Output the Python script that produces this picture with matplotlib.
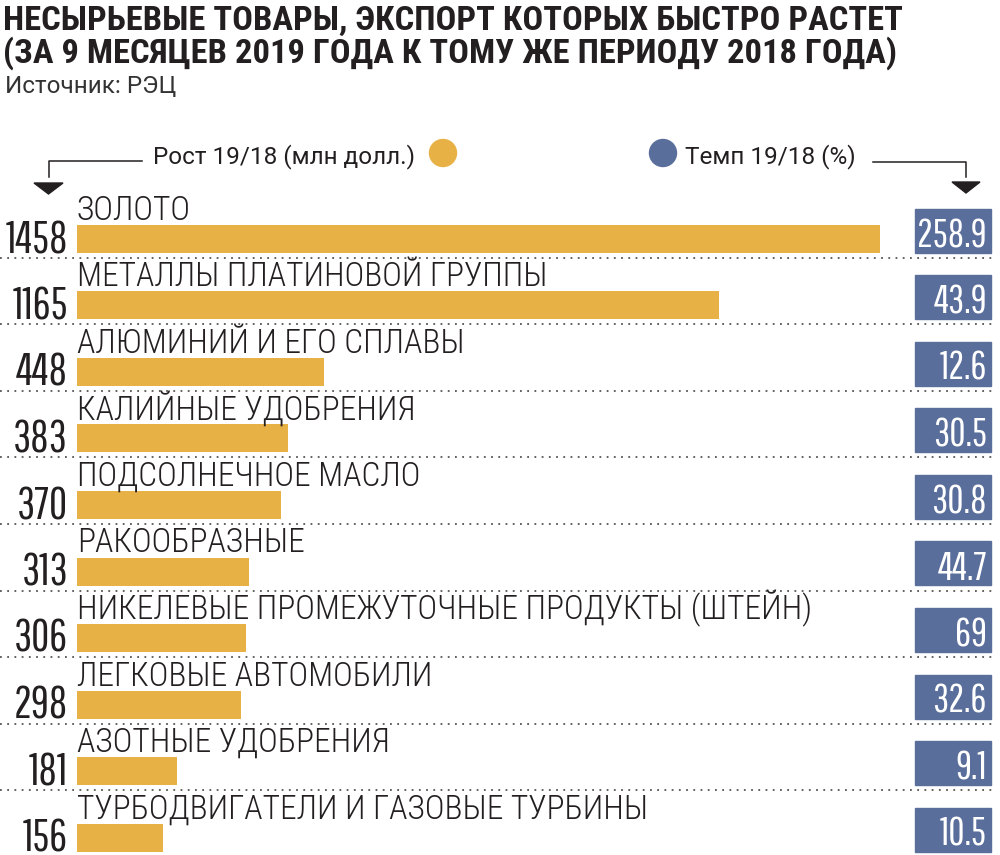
import matplotlib
matplotlib.use("Agg")
import matplotlib.pyplot as plt
from matplotlib.patches import Circle, Rectangle, Polygon
import numpy as np

categories = ["ЗОЛОТО", "МЕТАЛЛЫ ПЛАТИНОВОЙ ГРУППЫ", "АЛЮМИНИЙ И ЕГО СПЛАВЫ",
              "КАЛИЙНЫЕ УДОБРЕНИЯ", "ПОДСОЛНЕЧНОЕ МАСЛО", "РАКООБРАЗНЫЕ",
              "НИКЕЛЕВЫЕ ПРОМЕЖУТОЧНЫЕ ПРОДУКТЫ (ШТЕЙН)", "ЛЕГКОВЫЕ АВТОМОБИЛИ",
              "АЗОТНЫЕ УДОБРЕНИЯ", "ТУРБОДВИГАТЕЛИ И ГАЗОВЫЕ ТУРБИНЫ"]
growth = [1458, 1165, 448, 383, 370, 313, 306, 298, 181, 156]
rate_labels = ["258.9", "43.9", "12.6", "30.5", "30.8", "44.7", "69", "32.6", "9.1", "10.5"]

title_lines = ["НЕСЫРЬЕВЫЕ ТОВАРЫ, ЭКСПОРТ КОТОРЫХ БЫСТРО РАСТЕТ",
               "(ЗА 9 МЕСЯЦЕВ 2019 ГОДА К ТОМУ ЖЕ ПЕРИОДУ 2018 ГОДА)"]
source = "Источник: РЭЦ"
legend_left = "Рост 19/18 (млн долл.)"
legend_right = "Темп 19/18 (%)"

GOLD = "#E8B146"
BLUE = "#5A6E9B"
DARK = "#231F20"

NUMF = ["Pathway Gothic One", "Roboto Condensed", "DejaVu Sans"]
LABF = ["Roboto Condensed", "DejaVu Sans"]
TXTF = ["Roboto", "DejaVu Sans"]

W, H = 1000, 855
fig = plt.figure(figsize=(W / 100, H / 100), dpi=100)
fig.patch.set_facecolor("white")

ov = fig.add_axes([0, 0, 1, 1])
ov.set_xlim(0, W)
ov.set_ylim(H, 0)
ov.axis("off")

x0_px, xmax_px = 77, 880
px_per_unit = (xmax_px - x0_px) / max(growth)
row0_bottom = 253.0
row_step = 66.5
bar_h_px = 28.0
ax = fig.add_axes([0, 0, 1, 1], zorder=2)
ax.patch.set_alpha(0)
ax.set_xlim(-x0_px / px_per_unit, (W - x0_px) / px_per_unit)
c0 = row0_bottom - bar_h_px / 2
ax.set_ylim((H - c0) / row_step, -c0 / row_step)
ax.axis("off")

y = np.arange(len(categories))
bh = bar_h_px / row_step
ax.barh(y, growth, height=bh, color=GOLD, left=0)

box_l_px, box_r_px = 915, 991
box_h = 44 / row_step
for i, (cat, g, r) in enumerate(zip(categories, growth, rate_labels)):
    bottom = i + bh / 2
    ax.text(0, bottom - bh - 5 / row_step, cat, ha="left", va="baseline",
            fontsize=24, fontweight="light", family=LABF, color=DARK)
    ax.text(-9 / px_per_unit, bottom, str(g), ha="right", va="baseline",
            fontsize=32, family=NUMF, color=DARK)
    bl = (box_l_px - x0_px) / px_per_unit
    bw = (box_r_px - box_l_px) / px_per_unit
    ax.add_patch(Rectangle((bl, bottom - box_h), bw, box_h, color=BLUE, zorder=3))
    ax.text((box_r_px - 4 - x0_px) / px_per_unit, bottom - 6 / row_step, r,
            ha="right", va="baseline", fontsize=28.5, family=NUMF, color="white", zorder=4)
    if i < len(categories) - 1:
        yy = bottom + 5 / row_step
        ax.plot([-x0_px / px_per_unit, (995 - x0_px) / px_per_unit], [yy, yy],
                ls=(0, (1, 3)), lw=1.3, color="#555555", zorder=1)

# title
ov.text(3, 30, title_lines[0], fontsize=24.8, fontweight="bold", family=LABF,
        color=DARK, va="baseline", ha="left")
ov.text(3, 63, title_lines[1], fontsize=24.8, fontweight="bold", family=LABF,
        color=DARK, va="baseline", ha="left")
ov.text(5, 93, source, fontsize=17.5, family=TXTF, color="#333333",
        va="baseline", ha="left")

# legend
ov.text(153, 163, legend_left, fontsize=17.5, family=TXTF,
        color=DARK, va="baseline", ha="left")
ov.add_patch(Circle((443, 153), 13.5, color=GOLD))
ov.add_patch(Circle((663, 153), 13.5, color=BLUE))
ov.text(685, 163, legend_right, fontsize=17.5, family=TXTF,
        color=DARK, va="baseline", ha="left")
ov.plot([142, 49, 49], [161, 161, 177], color=DARK, lw=1.1)
ov.add_patch(Polygon([[34, 183], [63, 183], [48.5, 194]], color=DARK))
ov.plot([873, 966, 966], [162, 162, 177], color=DARK, lw=1.1)
ov.add_patch(Polygon([[952, 182], [980, 182], [966, 193]], color=DARK))

fig.savefig("out.png", dpi=100, facecolor="white")
